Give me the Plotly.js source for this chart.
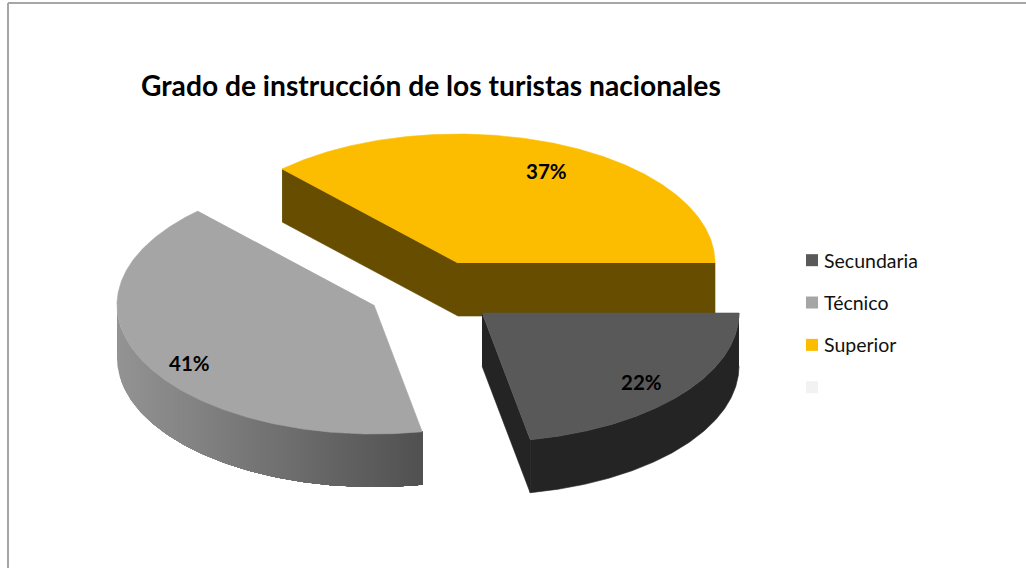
<!DOCTYPE html>
<html><head><meta charset="utf-8">
<script src="https://cdn.plot.ly/plotly-3.0.1.min.js"></script>
<style>html,body{margin:0;padding:0;background:#fff}#c{width:1026px;height:568px}</style>
</head><body><div id="c"></div>
<script>
// data
const categories = ['Secundaria', 'Técnico', 'Superior', ' '];
const values = [22, 41, 37];
const titleText = 'Grado de instrucción de los turistas nacionales';
const topColors = ['#595959', '#a5a5a5', '#fcbd00', '#f2f2f2'];
const wallColors = ['#242424', '#8f8f8f', '#664d00'];

// pie geometry (pixel-based axes, y downward)
const RX = 257, RY = 129, DEPTH = 53;
const centres = [[482, 313], [374, 305], [458, 263]];
const total = values.reduce((a, b) => a + b, 0);
const toRad = d => d * Math.PI / 180;

// slices run clockwise on screen from due east
let acc = 0;
const spans = values.map(v => { const s = acc; acc += v / total * 360; return [s, acc]; });
const pt = (c, a, dy = 0) => [c[0] + RX * Math.cos(toRad(a)), c[1] + RY * Math.sin(toRad(a)) + dy];
const arc = (c, a0, a1, dy = 0) => {
  const n = Math.max(2, Math.ceil(Math.abs(a1 - a0) * 2)), out = [];
  for (let i = 0; i <= n; i++) out.push(pt(c, a0 + (a1 - a0) * i / n, dy));
  return out;
};
const poly = (pts, color, w = 0.6) => ({
  type: 'scatter', mode: 'lines', x: pts.map(p => p[0]), y: pts.map(p => p[1]),
  fill: 'toself', fillcolor: color, line: { color: color, width: w },
  hoverinfo: 'skip', showlegend: false
});
const mix = (a, b, t) => {
  const h = s => [1, 3, 5].map(i => parseInt(s.substr(i, 2), 16));
  const A = h(a), B = h(b);
  return 'rgb(' + A.map((v, i) => Math.round(v + (B[i] - v) * t)).join(',') + ')';
};

const traces = [];
// Superior (back): two radial walls then top
{
  const c = centres[2], [a0, a1] = spans[2];
  const p0 = pt(c, a0), pe = pt(c, a1);
  const wall = [p0, c, pe, [pe[0], pe[1] + DEPTH], [c[0], c[1] + DEPTH], [p0[0], p0[1] + DEPTH]];
  traces.push(poly(wall, wallColors[2]));
  traces.push(poly([c, ...arc(c, a0, a1)], topColors[2]));
}
// Técnico: outer wall shaded left to right (each band overlaps the rest, so no seams), then top
{
  const c = centres[1], [a0] = spans[1];
  const steps = 70;
  const xL = c[0] - RX, xR = pt(c, a0)[0];
  for (let i = 0; i < steps; i++) {
    const xs = xL + (xR - xL) * i / steps;
    const s = Math.acos((xs - c[0]) / RX) * 180 / Math.PI;
    const top = arc(c, s, a0), bot = arc(c, s, a0, DEPTH).reverse();
    traces.push(poly([...top, ...bot], mix('#939393', '#515151', i / (steps - 1)), 0));
  }
  traces.push(poly([c, ...arc(c, spans[1][0], spans[1][1])], topColors[1]));
}
// Secundaria (front): radial wall, outer wall, top
{
  const c = centres[0], [a0, a1] = spans[0];
  const pe = pt(c, a1);
  traces.push(poly([c, pe, [pe[0], pe[1] + DEPTH], [c[0], c[1] + DEPTH]], wallColors[0]));
  traces.push(poly([...arc(c, a0, a1), ...arc(c, a0, a1, DEPTH).reverse()], wallColors[0]));
  traces.push(poly([c, ...arc(c, a0, a1)], topColors[0]));
}
// legend entries
categories.forEach((name, i) => traces.push({
  type: 'scatter', mode: 'markers', x: [null], y: [null], name: name,
  legendgroup: 'g' + i,
  marker: { symbol: 'square', size: 12, color: topColors[i] }
}));

const FONT = 'Lato, Carlito, sans-serif';
const labelPos = [[641, 382], [189, 363], [546, 171]];
const annotations = values.map((v, i) => ({
  x: labelPos[i][0], y: labelPos[i][1], xref: 'x', yref: 'y', showarrow: false,
  text: '<b>' + v + '%</b>',
  font: { family: FONT, size: 20.5, color: '#000' }
}));
annotations.push({
  x: 431, y: 85, xref: 'x', yref: 'y', showarrow: false,
  text: '<b>' + titleText + '</b>',
  font: { family: FONT, size: 28.2, color: '#000' }
});

const layout = {
  width: 1026, height: 568,
  margin: { l: 0, r: 0, t: 0, b: 0 },
  paper_bgcolor: '#fff', plot_bgcolor: '#fff',
  xaxis: { range: [0, 1026], visible: false, fixedrange: true },
  yaxis: { range: [568, 0], visible: false, fixedrange: true },
  showlegend: true,
  legend: {
    x: 792 / 1026, y: 1 - 241 / 568, xanchor: 'left', yanchor: 'top',
    font: { family: FONT, size: 19.5, color: '#111' },
    tracegroupgap: 14, itemwidth: 30, bgcolor: 'rgba(0,0,0,0)', traceorder: 'grouped'
  },
  shapes: [
    { type: 'line', xref: 'x', yref: 'y', x0: 8, x1: 8, y0: 3, y1: 568, line: { color: '#a6a6a6', width: 2 } },
    { type: 'line', xref: 'x', yref: 'y', x0: 8, x1: 1026, y0: 3, y1: 3, line: { color: '#a6a6a6', width: 2 } }
  ],
  annotations: annotations
};
Plotly.newPlot('c', traces, layout, { displayModeBar: false, staticPlot: true }).then(() => {
  // the reference sets its legend text closer to the swatches
  document.querySelectorAll('#c .legendtext').forEach(t => {
    t.setAttribute('x', parseFloat(t.getAttribute('x')) - 8);
  });
});
</script></body></html>
